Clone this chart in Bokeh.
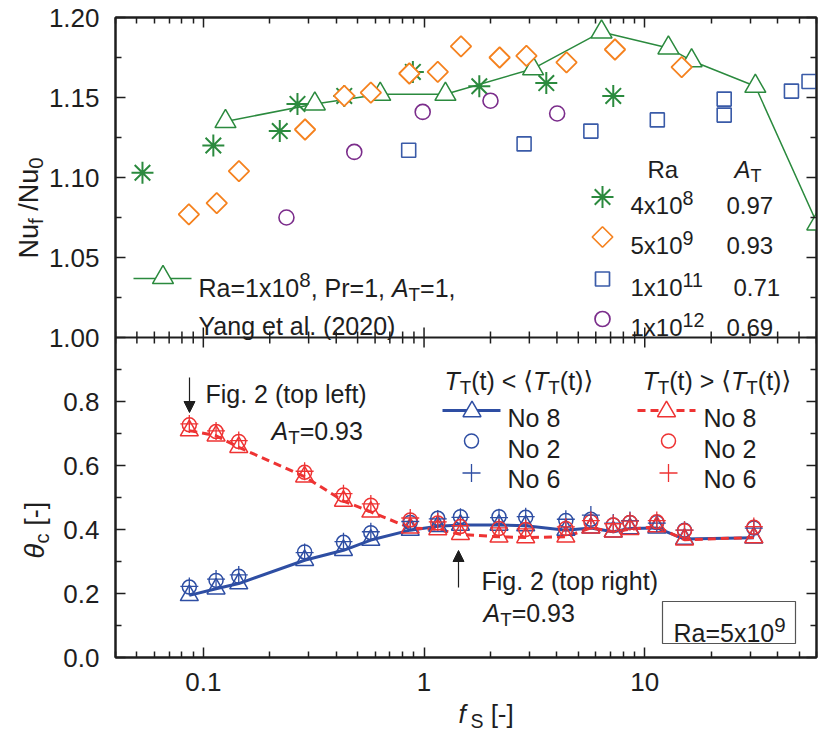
import math
from bokeh.plotting import figure
from bokeh.models import (Range1d, LinearAxis, LogAxis, FixedTicker, CustomJSTickFormatter,
                          Label, Arrow, NormalHead, BoxAnnotation, Span, GridBox)
from bokeh.embed import file_html
from bokeh.resources import INLINE

# ---------------- data ----------------
# Top panel: Nu_f / Nu_0 versus f_S
ra4e8_fs = [0.053, 0.111, 0.222, 0.267, 0.435, 0.89, 1.78, 3.58, 7.2]
ra4e8_nu = [1.103, 1.120, 1.129, 1.146, 1.151, 1.166, 1.157, 1.159, 1.151]

ra5e9_fs = [0.086, 0.115, 0.145, 0.289, 0.435, 0.574, 0.858, 1.154, 1.47, 2.2, 2.91, 4.42, 7.33, 14.7]
ra5e9_nu = [1.077, 1.084, 1.104, 1.130, 1.151, 1.153, 1.165, 1.166, 1.182, 1.175, 1.176, 1.172, 1.180, 1.169]

ra1e11_fs = [0.852, 2.84, 5.70, 11.4, 22.9, 22.9, 46.2, 55.5]
ra1e11_nu = [1.117, 1.121, 1.129, 1.136, 1.139, 1.149, 1.154, 1.160]

ra1e12_fs = [0.238, 0.483, 0.986, 2.0, 4.01]
ra1e12_nu = [1.075, 1.116, 1.141, 1.148, 1.140]

yang_fs = [0.126, 0.32, 0.633, 1.25, 3.12, 6.37, 12.8, 16.3, 31.7, 60.5]
yang_nu = [1.135, 1.146, 1.152, 1.152, 1.168, 1.191, 1.181, 1.173, 1.157, 1.071]

# Bottom panel: theta_c versus f_S (Ra = 5e9)
theta_fs = [0.0864, 0.1142, 0.1447, 0.2877, 0.4315, 0.574, 0.866, 1.154, 1.462,
            2.186, 2.888, 4.39, 5.70, 7.20, 8.57, 11.34, 15.14, 31.2]
low_no8 = [0.194, 0.215, 0.231, 0.304, 0.335, 0.367, 0.398, 0.410, 0.414,
           0.414, 0.412, 0.398, 0.405, 0.393, 0.403, 0.405, 0.370, 0.374]
low_no2 = [0.220, 0.241, 0.254, 0.330, 0.360, 0.390, 0.422, 0.435, 0.440,
           0.440, 0.438, 0.428, 0.432, 0.414, 0.422, 0.422, 0.398, 0.405]
low_no6 = [0.222, 0.245, 0.258, 0.328, 0.362, 0.393, 0.425, 0.433, 0.438,
           0.437, 0.440, 0.432, 0.445, 0.420, 0.428, 0.420, 0.398, 0.404]
high_no8 = [0.709, 0.693, 0.657, 0.565, 0.489, 0.455, 0.405, 0.400, 0.385,
            0.377, 0.375, 0.377, 0.405, 0.393, 0.401, 0.409, 0.368, 0.375]
high_no2 = [0.727, 0.706, 0.675, 0.579, 0.508, 0.476, 0.430, 0.420, 0.409,
            0.403, 0.400, 0.403, 0.424, 0.414, 0.422, 0.424, 0.396, 0.407]
high_no6 = [0.730, 0.708, 0.678, 0.582, 0.512, 0.480, 0.436, 0.424, 0.412,
            0.405, 0.402, 0.408, 0.428, 0.418, 0.426, 0.428, 0.398, 0.409]

# axis ticks
x_major = [0.1, 1, 10]
x_minor = [m * 10 ** e for e in (-2, -1, 0, 1) for m in range(2, 10) if 0.04 <= m * 10 ** e <= 60]
top_major = [1.00, 1.05, 1.10, 1.15, 1.20]
top_minor = [1.025, 1.075, 1.125, 1.175]
bot_major = [0.0, 0.2, 0.4, 0.6, 0.8]
bot_minor = [0.1, 0.3, 0.5, 0.7, 0.9]

# ---------------- style / layout ----------------
FONT = "Liberation Sans"
TXT = "#1e1e1e"
GREEN = "#2B8A3E"
ORANGE = "#F5821F"
SQBLUE = "#3A5BA8"
PURPLE = "#7B2D8B"
BLUE = "#2E4EA3"
RED = "#EE3333"

XMIN, XMAX = 0.04, 60.0
FL, FR = 115, 816          # frame left / right (page px)
FT, FB = 17, 657           # frame top / bottom (page px)
PANEL = 320                # px per panel
W, H = 822, 737            # page size used


def X(px):
    return 10 ** (math.log10(XMIN) + (px - FL) / (FR - FL) * math.log10(XMAX / XMIN))


def YB(py):                # main range: bottom panel 0..1, top panel 1..2
    return (FB - py) / PANEL


def top_to_main(t):        # top-panel value -> main range value
    return 1.0 + (t - 1.0) * 5.0


p = figure(x_axis_type="log", x_range=Range1d(XMIN, XMAX), y_range=Range1d(0.0, 2.0),
           frame_width=FR - FL, frame_height=FB - FT,
           min_border_left=FL, min_border_right=W - FR, min_border_top=FT, min_border_bottom=H - FB,
           output_backend="svg", toolbar_location=None)
p.extra_y_ranges = {"top": Range1d(0.80, 1.20)}
p.grid.visible = False
p.outline_line_color = TXT
p.outline_line_width = 2
p.background_fill_color = "white"
p.border_fill_color = "white"


def style_axis(ax, ticker, labels, formatter=None, standoff=13):
    ax.ticker = ticker
    ax.axis_line_color = TXT
    ax.axis_line_width = 2
    ax.major_tick_in = 10
    ax.major_tick_out = 0
    ax.minor_tick_in = 6
    ax.minor_tick_out = 0
    ax.major_tick_line_color = TXT
    ax.minor_tick_line_color = TXT
    ax.major_tick_line_width = 1.5
    ax.minor_tick_line_width = 1.5
    ax.axis_label = None
    if labels:
        ax.formatter = formatter
        ax.major_label_text_font = FONT
        ax.major_label_text_font_size = "26px"
        ax.major_label_text_color = TXT
        ax.major_label_standoff = standoff
    else:
        ax.formatter = CustomJSTickFormatter(code="return '';")
        ax.major_label_text_font_size = "0px"
        ax.major_label_standoff = 0


xticker = FixedTicker(ticks=x_major, minor_ticks=x_minor)
yticker = FixedTicker(ticks=bot_major + [top_to_main(t) for t in top_major],
                      minor_ticks=bot_minor + [top_to_main(t) for t in top_minor])

style_axis(p.xaxis[0], xticker, True,
           CustomJSTickFormatter(code="return tick >= 1 ? tick.toFixed(0) : tick.toFixed(1);"), standoff=15)
style_axis(p.yaxis[0], yticker, True,
           CustomJSTickFormatter(code="return tick < 0.99 ? tick.toFixed(1) : (1 + (tick - 1) / 5).toFixed(2);"),
           standoff=16)
ax_top = LogAxis()
style_axis(ax_top, xticker, False)
p.add_layout(ax_top, "above")
ax_right = LinearAxis()
style_axis(ax_right, yticker, False)
p.add_layout(ax_right, "right")

# shared border between the two panels with ticks pointing into both panels
p.add_layout(Span(location=1.0, dimension="width", line_color=TXT, line_width=2))
for ticks, length in ((x_major, 10), (x_minor, 6)):
    d = length / PANEL
    p.segment(x0=ticks, y0=[1.0] * len(ticks), x1=ticks, y1=[1.0 + d] * len(ticks),
              line_color=TXT, line_width=1.5)
    p.segment(x0=ticks, y0=[1.0] * len(ticks), x1=ticks, y1=[1.0 - d] * len(ticks),
              line_color=TXT, line_width=1.5)

# ---------------- top panel glyphs ----------------
p.line(yang_fs, yang_nu, y_range_name="top", line_color=GREEN, line_width=1.5)
p.scatter(yang_fs, yang_nu, y_range_name="top", marker="triangle", size=21,
          line_color=GREEN, fill_color="white", line_width=1.5)
p.scatter(ra4e8_fs, ra4e8_nu, y_range_name="top", marker="asterisk", size=22,
          line_color=GREEN, line_width=2)
p.scatter(ra1e11_fs, ra1e11_nu, y_range_name="top", marker="square", size=14,
          line_color=SQBLUE, fill_color="white", line_width=1.6)
p.scatter(ra1e12_fs, ra1e12_nu, y_range_name="top", marker="circle", size=15,
          line_color=PURPLE, fill_color="white", line_width=1.6)
p.scatter(ra5e9_fs, ra5e9_nu, y_range_name="top", marker="square", angle=math.pi / 4, size=14.5,
          line_color=ORANGE, fill_color="white", line_width=1.8)

# ---------------- bottom panel glyphs ----------------
p.line(theta_fs, low_no8, line_color=BLUE, line_width=3)
p.line(theta_fs, high_no8, line_color=RED, line_width=3, line_dash="8 5")
p.scatter(theta_fs, low_no8, marker="triangle", size=18, line_color=BLUE, fill_color=None, line_width=1.5)
p.scatter(theta_fs, high_no8, marker="triangle", size=18, line_color=RED, fill_color=None, line_width=1.5)
p.scatter(theta_fs, low_no2, marker="circle", size=14, line_color=BLUE, fill_color=None, line_width=1.5)
p.scatter(theta_fs, high_no2, marker="circle", size=14, line_color=RED, fill_color=None, line_width=1.5)
p.scatter(theta_fs, low_no6, marker="cross", size=18, line_color=BLUE, line_width=1.3)
p.scatter(theta_fs, high_no6, marker="cross", size=18, line_color=RED, line_width=1.3)

# ---------------- overlay figure for texts outside the plot frame ----------------
ov = figure(width=W, height=H, x_range=Range1d(0, W), y_range=Range1d(0, H),
            frame_width=W, frame_height=H, min_border=0,
            x_axis_location=None, y_axis_location=None,
            output_backend="svg", toolbar_location=None)
ov.frame_align = False
ov.grid.visible = False
ov.outline_line_color = None
ov.background_fill_alpha = 0.0
ov.border_fill_alpha = 0.0

# ---------------- rich text helper ----------------
CW = {' ': 0.278, '(': 0.333, ')': 0.333, ',': 0.278, '-': 0.333, '.': 0.278, '/': 0.278,
      '<': 0.584, '=': 0.584, '>': 0.584, '[': 0.278, ']': 0.278, 'A': 0.667, 'F': 0.611,
      'N': 0.722, 'P': 0.667, 'R': 0.722, 'S': 0.667, 'T': 0.611, 'Y': 0.667, 'a': 0.556,
      'c': 0.5, 'e': 0.556, 'f': 0.278, 'g': 0.556, 'h': 0.556, 'i': 0.222, 'l': 0.222,
      'n': 0.556, 'o': 0.556, 'p': 0.556, 'r': 0.333, 't': 0.278, 'u': 0.556, 'x': 0.5,
      '\u03b8': 0.556, '\u27e8': 0.39, '\u27e9': 0.39}


def tw(s, fs):
    return sum(CW.get(c, 0.556) for c in s) * fs


def rich(px, py, parts, fs, angle=0.0, fig=None):
    target = p if fig is None else fig
    for_main = fig is None
    cur = 0.0
    for part in parts:
        txt, kind = part[0], part[1]
        extra = part[2] if len(part) > 2 else 0.0
        size, shift, style, font = fs, 0.0, "normal", FONT
        if kind == "i":
            style = "italic"
        elif kind == "sub":
            size, shift = fs * 0.75, 0.28 * fs
        elif kind == "sup":
            size, shift = fs * 0.82, -0.32 * fs
        elif kind == "sym":
            font = "DejaVu Sans"
        # leading blanks are collapsed in SVG text: advance the cursor instead
        stripped = txt.lstrip(" ")
        cur += tw(txt[:len(txt) - len(stripped)], size)
        txt = stripped
        if angle == 0.0:
            lx, ly = px + cur, py + shift
        else:
            lx, ly = px + shift, py - cur
        if for_main:
            x, y = X(lx), YB(ly)
        else:
            x, y = lx, H - ly
        target.add_layout(Label(x=x, y=y, text=txt, angle=angle, text_font=font,
                                text_font_size=f"{size:.1f}px", text_font_style=style,
                                text_color=TXT, text_align="left", text_baseline="alphabetic"))
        cur += tw(txt, size) + extra * fs


# axis titles (outside the frame -> overlay figure)
rich(28, 258, [("Nu", "n"), ("f", "sub"), (" /Nu", "n"), ("0", "sub")], 27, angle=math.pi / 2, fig=ov)
rich(34, 558, [("\u03b8", "i"), ("c", "sub"), (" [-]", "n")], 27, angle=math.pi / 2, fig=ov)
rich(458, 713, [("f", "i", 0.18), ("S", "sub"), (" [-]", "n")], 26, fig=ov)

# ---------------- top panel legends ----------------
LEG = 24
rich(647, 169, [("Ra", "n")], LEG)
rich(734, 169, [("A", "i"), ("T", "sub")], LEG)
leg_rows = [("asterisk", GREEN, 0.0, 22, "4x10", "8", "0.97", 726, 205),
            ("square", ORANGE, math.pi / 4, 14.5, "5x10", "9", "0.93", 726, 245),
            ("square", SQBLUE, 0.0, 14, "1x10", "11", "0.71", 733, 287),
            ("circle", PURPLE, 0.0, 15, "1x10", "12", "0.69", 726, 327)]
for mk, col, ang, sz, base, exp, at, atx, by in leg_rows:
    p.scatter([X(602)], [YB(by - 8.5)], marker=mk, angle=ang, size=sz, line_color=col,
              fill_color="white", line_width=2 if mk == "asterisk" else 1.7)
    rich(630, by, [(base, "n"), (exp, "sup")], LEG)
    rich(atx, by, [(at, "n")], LEG)

p.line([X(133), X(191)], [YB(278)] * 2, line_color=GREEN, line_width=1.5)
p.scatter([X(162.5)], [YB(277)], marker="triangle", size=21, line_color=GREEN,
          fill_color="white", line_width=1.5)
rich(198, 287, [("Ra=1x10", "n"), ("8", "sup"), (", Pr=1, ", "n"), ("A", "i"), ("T", "sub"), ("=1,", "n")], 25)
rich(198, 325, [("Yang et al. (2020)", "n")], 25)

# ---------------- bottom panel legends & notes ----------------
FS = 25
hdr_lo = [("T", "i"), ("T", "sub"), ("(t) < ", "n"), ("\u27e8", "sym"), ("T", "i"), ("T", "sub"),
          ("(t)", "n"), ("\u27e9", "sym")]
hdr_hi = [("T", "i"), ("T", "sub"), ("(t) > ", "n"), ("\u27e8", "sym"), ("T", "i"), ("T", "sub"),
          ("(t)", "n"), ("\u27e9", "sym")]
rich(444, 380, hdr_lo, FS)
rich(642, 380, hdr_hi, FS)

p.line([X(442), X(500)], [YB(410)] * 2, line_color=BLUE, line_width=3)
p.scatter([X(471.5)], [YB(411)], marker="triangle", size=18, line_color=BLUE, fill_color="white", line_width=1.5)
p.scatter([X(471)], [YB(440.5)], marker="circle", size=14, line_color=BLUE, fill_color=None, line_width=1.5)
p.scatter([X(471)], [YB(472.5)], marker="cross", size=18, line_color=BLUE, line_width=1.3)
p.line([X(637), X(695)], [YB(410)] * 2, line_color=RED, line_width=3, line_dash="8 5")
p.scatter([X(666)], [YB(411)], marker="triangle", size=18, line_color=RED, fill_color="white", line_width=1.5)
p.scatter([X(668)], [YB(440.5)], marker="circle", size=14, line_color=RED, fill_color=None, line_width=1.5)
p.scatter([X(668)], [YB(472.5)], marker="cross", size=18, line_color=RED, line_width=1.3)
for lx in (507, 703):
    rich(lx, 417, [("No 8", "n")], FS)
    rich(lx, 448, [("No 2", "n")], FS)
    rich(lx, 478, [("No 6", "n")], FS)

rich(205, 393, [("Fig. 2 (top left)", "n")], FS)
rich(271, 430, [("A", "i"), ("T", "sub"), ("=0.93", "n")], FS)
p.add_layout(Arrow(end=NormalHead(size=11, fill_color=TXT, line_color=TXT, line_width=1),
                   x_start=X(189), y_start=YB(377), x_end=X(189), y_end=YB(412),
                   line_color=TXT, line_width=1.2))

rich(481, 580, [("Fig. 2 (top right)", "n")], FS)
rich(483, 612, [("A", "i"), ("T", "sub"), ("=0.93", "n")], FS)
p.add_layout(Arrow(end=NormalHead(size=11, fill_color=TXT, line_color=TXT, line_width=1),
                   x_start=X(458), y_start=YB(587), x_end=X(458), y_end=YB(550),
                   line_color=TXT, line_width=1.2))

p.add_layout(BoxAnnotation(left=X(662), right=X(795), top=YB(601), bottom=YB(643),
                           fill_alpha=0.0, line_color="#555555", line_alpha=1.0, line_width=1.2))
rich(673, 632, [("Ra=5x10", "n"), ("9", "sup")], FS)

layout = GridBox(children=[(p, 0, 0), (ov, 0, 0)])
open("out.html", "w").write(file_html(layout, INLINE))
